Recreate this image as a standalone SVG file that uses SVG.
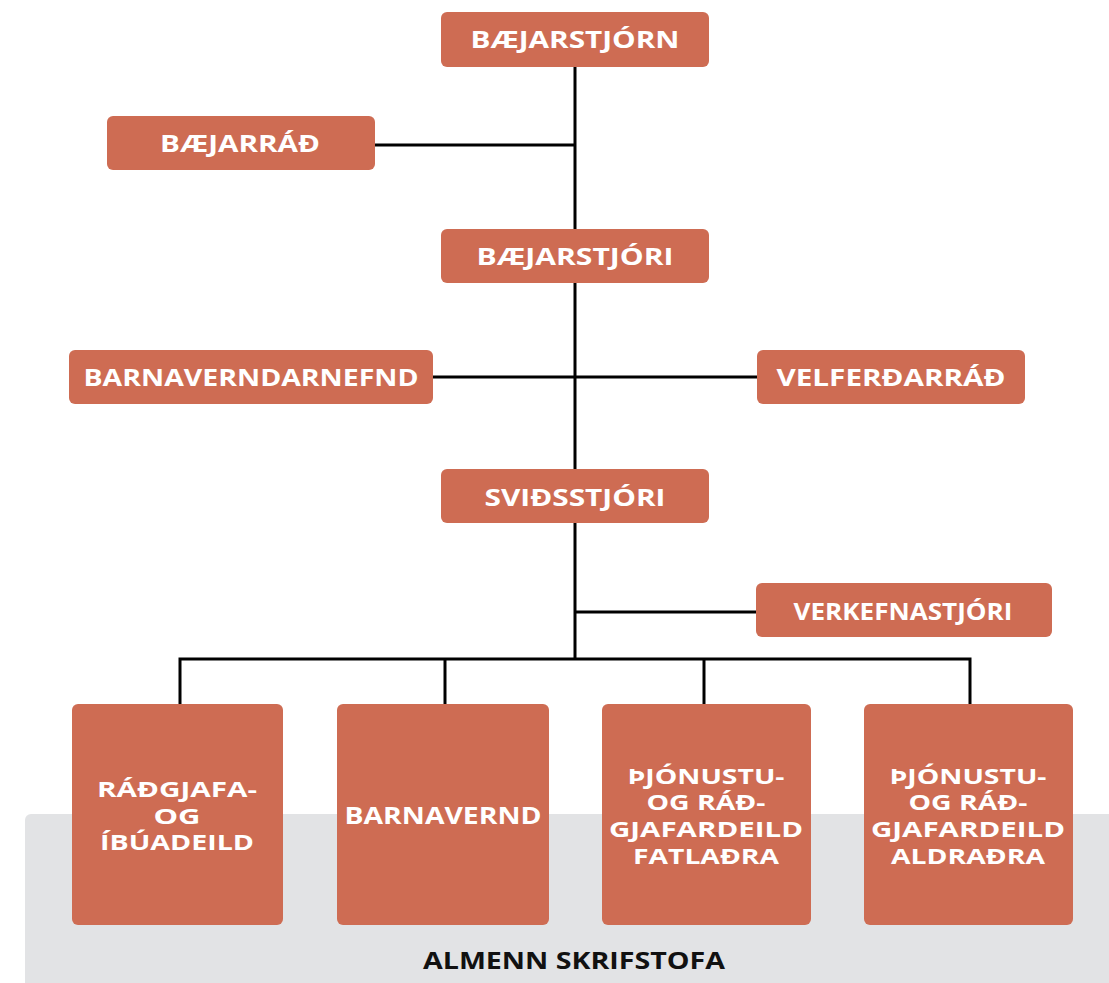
<svg xmlns="http://www.w3.org/2000/svg" width="1109" height="983" viewBox="0 0 1109 983">
<defs>
<style>
.box{fill:#CE6C53;}
.t{font-family:"Open Sans","Liberation Sans",sans-serif;font-weight:700;font-size:23px;fill:#FFFFFF;text-anchor:middle;}
.m{font-size:21px;}
.lbl{font-family:"Open Sans","Liberation Sans",sans-serif;font-weight:700;font-size:23px;fill:#111111;text-anchor:middle;}
.c{stroke:#000000;stroke-width:3;fill:none;stroke-linecap:butt;}
</style>
</defs>
<rect width="1109" height="983" fill="#FFFFFF"/>
<g id="almenn-skrifstofa">
<rect x="25" y="814" width="1100" height="200" rx="6" fill="#E2E3E5"/>
<text class="lbl" x="574" y="969" textLength="302" lengthAdjust="spacingAndGlyphs">ALMENN SKRIFSTOFA</text>
</g>
<g id="connectors">
<path class="c" d="M575 67 V659"/>
<path class="c" d="M375 145 H575"/>
<path class="c" d="M433 377 H757"/>
<path class="c" d="M575 612 H757"/>
<path class="c" d="M180 704 V659 H970 V704"/>
<path class="c" d="M445 659 V704"/>
<path class="c" d="M704 659 V704"/>
</g>
<g id="baejarstjorn">
<rect class="box" x="441" y="12" width="268" height="55" rx="6"/>
<text class="t" x="575" y="48" textLength="209" lengthAdjust="spacingAndGlyphs">BÆJARSTJÓRN</text>
</g>
<g id="baejarrad">
<rect class="box" x="107" y="116" width="268" height="54" rx="6"/>
<text class="t" x="240" y="152" textLength="160" lengthAdjust="spacingAndGlyphs">BÆJARRÁÐ</text>
</g>
<g id="baejarstjori">
<rect class="box" x="441" y="229" width="268" height="54" rx="6"/>
<text class="t" x="575" y="265" textLength="197" lengthAdjust="spacingAndGlyphs">BÆJARSTJÓRI</text>
</g>
<g id="barnaverndarnefnd">
<rect class="box" x="69" y="350" width="364" height="54" rx="6"/>
<text class="t" x="251" y="386" textLength="335" lengthAdjust="spacingAndGlyphs">BARNAVERNDARNEFND</text>
</g>
<g id="velferdarrad">
<rect class="box" x="757" y="350" width="268" height="54" rx="6"/>
<text class="t" x="891" y="386" textLength="229" lengthAdjust="spacingAndGlyphs">VELFERÐARRÁÐ</text>
</g>
<g id="svidsstjori">
<rect class="box" x="441" y="469" width="268" height="54" rx="6"/>
<text class="t" x="575" y="506" textLength="181" lengthAdjust="spacingAndGlyphs">SVIÐSSTJÓRI</text>
</g>
<g id="verkefnastjori">
<rect class="box" x="756" y="583" width="296" height="54" rx="6"/>
<text class="t" x="903" y="620" textLength="219" lengthAdjust="spacingAndGlyphs">VERKEFNASTJÓRI</text>
</g>
<g id="radgjafa-og-ibuadeild">
<rect class="box" x="72" y="704" width="211" height="221" rx="6"/>
<text class="t m" x="177" y="797" textLength="160" lengthAdjust="spacingAndGlyphs">RÁÐGJAFA-</text>
<text class="t m" x="177" y="824" textLength="47" lengthAdjust="spacingAndGlyphs">OG</text>
<text class="t m" x="177" y="850" textLength="154" lengthAdjust="spacingAndGlyphs">ÍBÚADEILD</text>
</g>
<g id="barnavernd">
<rect class="box" x="337" y="704" width="212" height="221" rx="6"/>
<text class="t" x="443" y="824" textLength="197" lengthAdjust="spacingAndGlyphs">BARNAVERND</text>
</g>
<g id="thjonustu-fatladra">
<rect class="box" x="602" y="704" width="209" height="221" rx="6"/>
<text class="t m" x="706" y="784" textLength="157" lengthAdjust="spacingAndGlyphs">ÞJÓNUSTU-</text>
<text class="t m" x="706" y="810" textLength="119" lengthAdjust="spacingAndGlyphs">OG RÁÐ-</text>
<text class="t m" x="706" y="837" textLength="194" lengthAdjust="spacingAndGlyphs">GJAFARDEILD</text>
<text class="t m" x="706" y="864" textLength="146" lengthAdjust="spacingAndGlyphs">FATLAÐRA</text>
</g>
<g id="thjonustu-aldradra">
<rect class="box" x="864" y="704" width="209" height="221" rx="6"/>
<text class="t m" x="968" y="784" textLength="157" lengthAdjust="spacingAndGlyphs">ÞJÓNUSTU-</text>
<text class="t m" x="968" y="810" textLength="119" lengthAdjust="spacingAndGlyphs">OG RÁÐ-</text>
<text class="t m" x="968" y="837" textLength="194" lengthAdjust="spacingAndGlyphs">GJAFARDEILD</text>
<text class="t m" x="968" y="864" textLength="154" lengthAdjust="spacingAndGlyphs">ALDRAÐRA</text>
</g>
</svg>
